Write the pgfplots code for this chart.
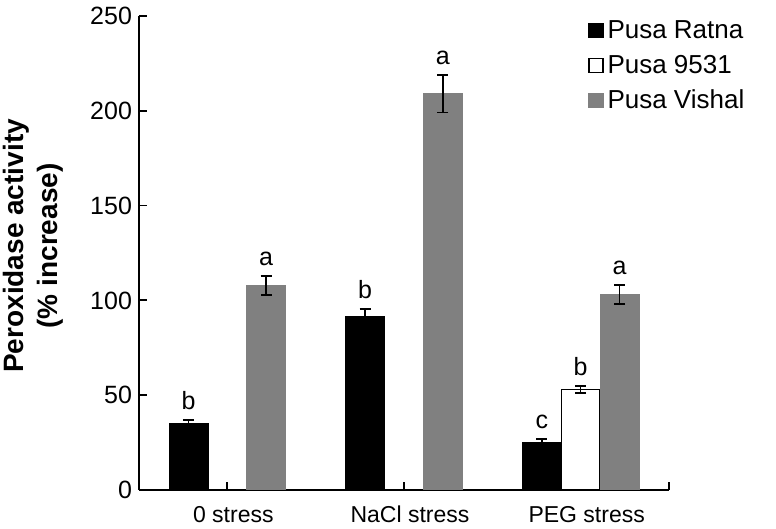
\documentclass[border=0pt]{standalone}
\usepackage{fontspec}
\setmainfont{Liberation Sans}
\usepackage{pgfplots}
\pgfplotsset{compat=1.18}
\usepackage{pgfplotstable}

% group position, mean, error, letter
\pgfplotstableread{
x y err lab
1 35 2 b
2 91.5 4 b
3 25 2 c
}\ratna
\pgfplotstableread{
x y err lab
3 53 2 b
}\ninefivethreeone
\pgfplotstableread{
x y err lab
1 108 5 a
2 209 10 a
3 103 5 a
}\vishal

\begin{document}
\begin{tikzpicture}
\useasboundingbox (0,0) rectangle (388pt,264.5pt);
\begin{axis}[
  at={(69.5pt,19.5pt)}, anchor=south west,
  scale only axis, width=265pt, height=237pt,
  ybar, bar width=0.22,
  xmin=0.5, xmax=3.5, ymin=0, ymax=250,
  axis x line*=bottom, axis y line*=left,
  axis line style={line width=0.9pt, -},
  xtick={1,2,3}, xticklabels={0 stress, NaCl stress, PEG stress},
  extra x ticks={3.5}, extra x tick labels={},
  ytick={0,50,...,250},
  tick align=inside,
  major tick length=4pt,
  tick style={line width=0.9pt, black},
  /pgf/number format/assume math mode=true,
  x tick label style={font=\fontsize{11.5}{14}\selectfont, yshift=-4.5pt, xshift=3pt},
  y tick label style={font=\fontsize{12.5}{15}\selectfont},
  ylabel={Peroxidase activity\\(\% increase)},
  ylabel style={align=center, font=\bfseries\fontsize{14}{17}\selectfont,
    at={(axis description cs:-0.13,0.515)}, anchor=south},
  legend style={at={(axis description cs:0.847,1.0)}, anchor=north west,
    draw=none, fill=none, font=\fontsize{13}{15}\selectfont,
    row sep=2.8pt, inner sep=0pt},
  legend cell align=left,
  every axis plot post/.append style={
    legend image code/.code={\draw[##1, line width=0.6pt] (0pt,-3.5pt) rectangle (7pt,3.5pt);}},
  nodes near coords, point meta=explicit symbolic,
  visualization depends on={\thisrow{err} \as \err},
  every node near coord/.append style={font=\fontsize{12.5}{15}\selectfont,
    anchor=south, yshift=\err*0.948pt+1.5pt},
  error bars/y dir=both, error bars/y explicit,
  error bars/error bar style={line width=0.8pt, black},
  error bars/error mark options={line width=0.8pt, black, mark size=2.75pt, rotate=90},
]
\addplot[fill=black, draw=black, bar shift=-0.22]
  table[x=x, y=y, y error=err, meta=lab] {\ratna};
\addlegendentry{Pusa Ratna}
\addplot[fill=white, draw=black, line width=0.7pt, bar shift=0]
  table[x=x, y=y, y error=err, meta=lab] {\ninefivethreeone};
\addlegendentry{Pusa 9531}
\addplot[fill=black!50, draw=black!50, bar shift=0.22]
  table[x=x, y=y, y error=err, meta=lab] {\vishal};
\addlegendentry{Pusa Vishal}
\end{axis}
\end{tikzpicture}
\end{document}
